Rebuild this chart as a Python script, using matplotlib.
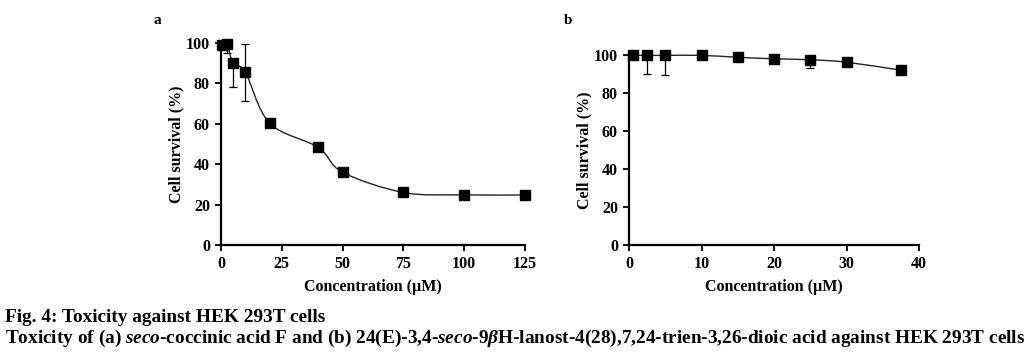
import numpy as np
import matplotlib
matplotlib.use('Agg')
import matplotlib.pyplot as plt
from matplotlib.path import Path
from matplotlib.patches import PathPatch

plt.rcParams['font.family'] = ['Liberation Serif', 'DejaVu Serif']
plt.rcParams['font.weight'] = 'bold'
plt.rcParams['mathtext.fontset'] = 'custom'
plt.rcParams['mathtext.rm'] = 'Liberation Serif:bold'
plt.rcParams['mathtext.it'] = 'Liberation Serif:italic:bold'

# Panel a: seco-coccinic acid F
conc_a = [0.5, 2.5, 5, 10, 20, 40, 50, 75, 100, 125]
surv_a = [99, 99.5, 90, 85.5, 60.3, 48.3, 36, 26, 24.8, 24.8]
err_a_lo = [0, 4.5, 12, 14, 0, 0, 0, 0, 0, 0]
err_a_hi = [0, 0, 0, 14, 0, 0, 0, 0, 0, 0]

# Panel b: 24(E)-3,4-seco-9bH-lanost-4(28),7,24-trien-3,26-dioic acid
conc_b = [0.5, 2.5, 5, 10, 15, 20, 25, 30, 37.5]
surv_b = [99.8, 99.8, 99.8, 99.8, 98.8, 98, 97.5, 96.2, 92]
err_b_lo = [0, 10, 10.5, 0, 0, 0, 4.5, 0, 0]
err_b_hi = [0, 0, 0, 0, 0, 0, 0, 0, 0]


# Smoothed line like a spreadsheet chart (Catmull-Rom as Bezier)
def smoothLine(ax, x, y):
    p = np.column_stack([x, y]).astype(float)
    verts = [p[0]]
    codes = [Path.MOVETO]
    n = len(p)
    for i in range(n - 1):
        p0 = p[i - 1] if i > 0 else p[i]
        p3 = p[i + 2] if i + 2 < n else p[i + 1]
        c1 = p[i] + (p[i + 1] - p0) / 6.0
        c2 = p[i + 1] - (p3 - p[i]) / 6.0
        verts += [c1, c2, p[i + 1]]
        codes += [Path.CURVE4] * 3
    ax.add_patch(PathPatch(Path(verts, codes), fill=False, lw=1.0,
                           edgecolor='#222222', zorder=2, clip_on=False))


def drawPanel(ax, x, y, lo, hi, xmax, xticks):
    smoothLine(ax, x, y)
    ax.errorbar(x, y, yerr=[lo, hi], fmt='none', ecolor='black',
                elinewidth=0.9, capsize=2.7, capthick=0.9, zorder=1)
    ax.plot(x, y, 's', color='black', ms=7.5, zorder=3, clip_on=False)
    ax.set_xlim(0, xmax)
    ax.set_ylim(0, 100)
    ax.set_xticks(xticks)
    ax.set_yticks(range(0, 101, 20))
    ax.spines['top'].set_visible(False)
    ax.spines['right'].set_visible(False)
    ax.spines['left'].set_linewidth(1.6)
    ax.spines['bottom'].set_linewidth(1.6)
    ax.tick_params(direction='out', length=4, width=1.3, labelsize=11.5, pad=4)
    for t in ax.get_xticklabels() + ax.get_yticklabels():
        t.set_fontweight('bold')
    ax.set_xlabel('Concentration (µM)', fontsize=11.5, fontweight='bold', labelpad=5)
    ax.set_ylabel('Cell survival (%)', fontsize=11.5, fontweight='bold', labelpad=1)


fig = plt.figure(figsize=(10.31, 3.55), dpi=100)
ax1 = fig.add_axes([221 / 1031, 1 - 245 / 355, 304 / 1031, 202 / 355])
ax2 = fig.add_axes([629 / 1031, 1 - 245 / 355, 290 / 1031, 190 / 355])

drawPanel(ax1, conc_a, surv_a, err_a_lo, err_a_hi, 125, [0, 25, 50, 75, 100, 125])
drawPanel(ax2, conc_b, surv_b, err_b_lo, err_b_hi, 40, [0, 10, 20, 30, 40])

fig.text(153 / 1031, 1 - 20 / 355, 'a', fontsize=11, fontweight='bold', va='center')
fig.text(564 / 1031, 1 - 20 / 355, 'b', fontsize=11, fontweight='bold', va='center')

fig.text(5 / 1031, 1 - 322 / 355, 'Fig. 4: Toxicity against HEK 293T cells',
         fontsize=13.9, fontweight='bold', va='baseline')
fig.text(5 / 1031, 1 - 343 / 355,
         r'Toxicity of (a) $\mathit{seco}$-coccinic acid F and (b) 24(E)-3,4-'
         r'$\mathit{seco}$-9$\mathit{\beta}$H-lanost-4(28),7,24-trien-3,26-dioic acid against HEK 293T cells',
         fontsize=13.9, fontweight='bold', va='baseline')

fig.savefig('out.png', dpi=100)
